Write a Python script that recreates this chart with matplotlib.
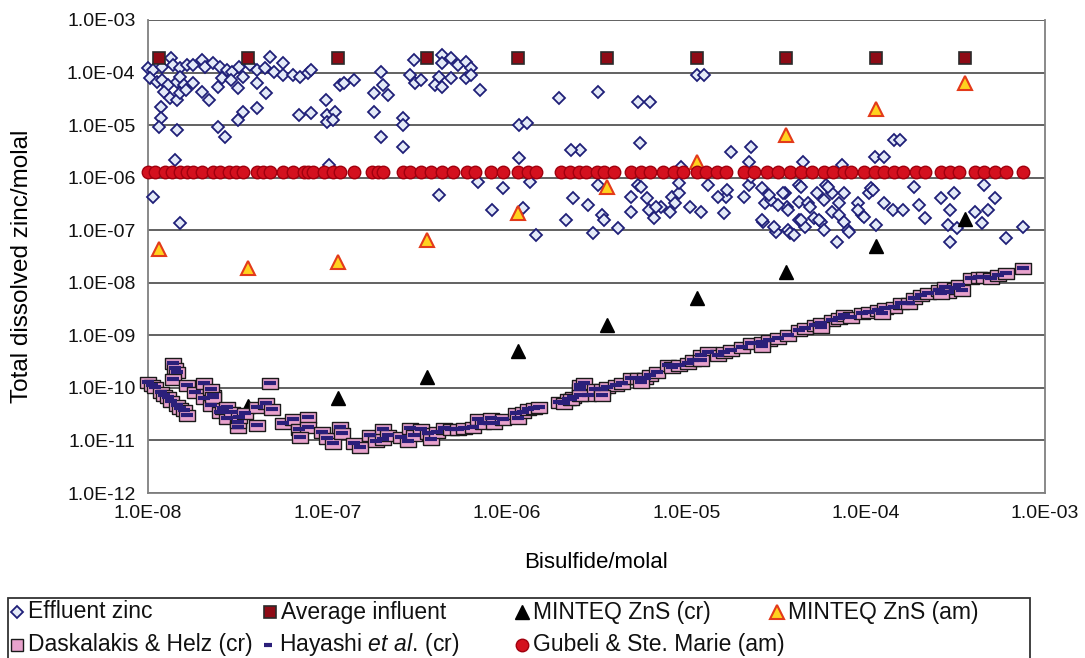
import numpy as np
import matplotlib
matplotlib.use("Agg")
import matplotlib.pyplot as plt
from matplotlib.lines import Line2D
from matplotlib.patches import Rectangle
from matplotlib.ticker import FixedLocator, FuncFormatter, NullLocator

plt.rcParams["font.family"] = ["Liberation Sans", "DejaVu Sans"]
plt.rcParams["mathtext.fontset"] = "custom"
plt.rcParams["mathtext.rm"] = "Liberation Sans"
plt.rcParams["mathtext.it"] = "Liberation Sans:italic"

# model bisulfide levels (molal)
model_hs = [1.15e-8, 3.6e-8, 1.15e-7, 3.6e-7, 1.15e-6, 3.6e-6, 1.15e-5, 3.6e-5, 1.15e-4, 3.6e-4]
avg_influent = [1.9e-4, 1.9e-4, 1.9e-4, 1.9e-4, 1.9e-4, 1.9e-4, 1.9e-4, 1.9e-4, 1.9e-4, 1.9e-4]
minteq_am = [4.3e-8, 1.95e-8, 2.5e-8, 6.6e-8, 2.1e-7, 6.5e-7, 2.0e-6, 6.5e-6, 2.0e-5, 6.3e-5]
minteq_cr_hs = [3.6e-8, 1.15e-7, 3.6e-7, 1.15e-6, 3.6e-6, 1.15e-5, 3.6e-5, 1.15e-4, 3.6e-4]
minteq_cr = [4.5e-11, 6.5e-11, 1.6e-10, 5.1e-10, 1.6e-9, 5.1e-9, 1.6e-8, 5.0e-8, 1.6e-7]

# Gubeli & Ste. Marie (am): constant zinc, log10 bisulfide
gubeli_zn = 1.3e-6
gubeli_log_hs = [
    -8.0, -7.96, -7.905, -7.866, -7.82, -7.78, -7.75, -7.70, -7.64, -7.60, -7.55, -7.51,
    -7.47, -7.39, -7.36, -7.32, -7.25, -7.19, -7.13, -7.11, -7.08, -7.02, -6.97, -6.93,
    -6.85, -6.75, -6.72, -6.69, -6.58, -6.54, -6.48, -6.42, -6.36, -6.30, -6.22, -6.18,
    -6.09, -6.02, -5.94, -5.88, -5.84, -5.70, -5.65, -5.60, -5.56, -5.50, -5.46, -5.40,
    -5.31, -5.25, -5.20, -5.13, -5.07, -5.02, -4.94, -4.89, -4.83, -4.78, -4.68, -4.62,
    -4.55, -4.49, -4.42, -4.36, -4.30, -4.23, -4.18, -4.12, -4.08, -4.01, -3.95, -3.90,
    -3.84, -3.79, -3.72, -3.67, -3.58, -3.53, -3.48, -3.39, -3.34, -3.28, -3.22, -3.12,
]

# effluent zinc: (log10 bisulfide, log10 zinc)
effluent_log = [
    (-8.0, -3.91), (-7.97, -3.95), (-7.92, -3.89), (-7.87, -3.72), (-7.86, -3.86), (-7.82, -3.91),
    (-7.78, -3.86), (-7.75, -3.86), (-7.70, -3.76), (-7.68, -3.89), (-7.64, -3.82), (-7.60, -3.89),
    (-7.56, -3.95), (-7.53, -3.99), (-7.49, -3.89), (-7.43, -3.86), (-7.39, -3.95), (-7.35, -3.91),
    (-7.32, -3.70), (-7.30, -3.99), (-7.25, -3.82), (-7.25, -4.05), (-7.19, -4.05), (-7.15, -4.08),
    (-7.11, -4.01), (-7.09, -3.95), (-6.70, -3.99), (-7.99, -4.10), (-7.95, -4.18), (-7.92, -4.14),
    (-7.89, -4.24), (-7.84, -4.18), (-7.82, -4.08), (-7.80, -4.24), (-7.75, -4.20), (-7.91, -4.37),
    (-7.88, -4.48), (-7.84, -4.52), (-7.82, -4.39), (-7.79, -4.33), (-7.70, -4.37), (-7.66, -4.52),
    (-7.61, -4.27), (-7.59, -4.10), (-7.54, -4.14), (-7.50, -4.29), (-7.47, -4.08), (-7.39, -4.20),
    (-7.34, -4.39), (-7.39, -4.67), (-7.47, -4.75), (-7.50, -4.90), (-7.93, -4.65), (-7.93, -4.86),
    (-7.94, -5.03), (-7.84, -5.09), (-7.61, -5.03), (-7.57, -5.22), (-7.16, -4.81), (-7.09, -4.77),
    (-7.01, -4.52), (-7.00, -4.81), (-6.96, -4.75), (-7.00, -4.94), (-6.97, -4.90), (-6.93, -4.24),
    (-6.91, -4.20), (-6.85, -4.14), (-6.74, -4.39), (-6.74, -4.75), (-6.70, -5.22), (-7.85, -5.66),
    (-7.97, -6.37), (-7.82, -6.86), (-6.99, -5.76),
    (-6.69, -4.24), (-6.66, -4.43), (-6.58, -4.86), (-6.58, -5.00), (-6.58, -5.41), (-6.52, -3.76),
    (-6.54, -4.05), (-6.51, -4.20), (-6.48, -4.14), (-6.36, -3.67), (-6.36, -3.82), (-6.31, -3.72),
    (-6.27, -3.86), (-6.23, -3.80), (-6.20, -3.91), (-6.38, -4.08), (-6.40, -4.24), (-6.36, -4.27),
    (-6.31, -4.10), (-6.23, -4.10), (-6.20, -4.05), (-6.15, -4.33), (-5.93, -5.00), (-5.89, -4.96),
    (-5.93, -5.62), (-5.71, -4.48), (-6.16, -6.08), (-6.02, -6.19), (-5.87, -6.08), (-6.38, -6.33),
    (-6.08, -6.61), (-5.91, -6.57), (-5.67, -6.80), (-5.84, -7.09),
    (-4.94, -4.05), (-4.90, -4.05), (-5.49, -4.37), (-5.27, -4.56), (-5.20, -4.56), (-5.59, -5.47),
    (-5.26, -5.34), (-4.75, -5.51), (-4.64, -5.41), (-3.84, -5.28), (-3.81, -5.28), (-3.95, -5.60),
    (-3.90, -5.60), (-4.35, -5.70), (-4.13, -5.76), (-5.03, -5.79), (-4.65, -5.70), (-5.49, -6.14),
    (-5.63, -6.38), (-5.55, -6.52), (-5.52, -7.05), (-5.47, -6.71), (-5.46, -6.80), (-5.38, -6.95),
    (-5.31, -6.65), (-5.31, -6.37), (-5.27, -6.14), (-5.25, -6.17), (-5.21, -6.61), (-5.18, -6.76),
    (-5.14, -6.56), (-5.09, -6.65), (-5.08, -6.37), (-5.06, -6.48), (-5.04, -6.29), (-4.98, -6.56),
    (-4.92, -6.65), (-4.88, -6.14), (-4.79, -6.67), (-4.78, -6.37), (-4.68, -6.37), (-4.65, -6.14),
    (-4.64, -5.98), (-4.58, -6.19), (-4.56, -6.48), (-4.57, -6.84), (-4.53, -6.42), (-4.50, -7.03),
    (-4.45, -6.29), (-4.44, -6.56), (-4.43, -6.99), (-4.42, -7.05), (-4.37, -6.14), (-4.37, -6.46),
    (-4.37, -6.80), (-4.32, -6.48), (-4.34, -6.94), (-4.29, -6.76), (-4.27, -6.29), (-4.25, -6.84),
    (-4.23, -6.99), (-4.22, -6.14), (-4.19, -6.29), (-4.19, -6.65), (-4.16, -7.22), (-4.15, -6.48),
    (-4.15, -6.71), (-4.12, -6.29), (-4.12, -6.84), (-4.10, -6.99), (-4.04, -6.48), (-4.02, -6.71),
    (-3.98, -6.29), (-3.97, -6.19), (-3.94, -6.90), (-3.90, -6.48), (-3.85, -6.61), (-3.79, -6.61),
    (-3.73, -6.17), (-3.70, -6.52), (-3.67, -6.76), (-3.58, -6.38), (-3.53, -6.61), (-3.54, -6.90),
    (-3.53, -7.22), (-3.51, -6.29), (-3.49, -6.95), (-3.39, -6.65), (-3.35, -6.86), (-3.34, -6.14),
    (-3.32, -6.61), (-3.28, -6.38), (-3.22, -7.14), (-3.12, -6.94),
    (-5.64, -5.47), (-5.22, -6.38), (-5.17, -6.56), (-5.04, -6.10), (-4.82, -6.37), (-4.77, -6.23),
    (-4.58, -6.80), (-4.54, -6.33), (-4.51, -6.94), (-4.49, -6.52), (-4.46, -6.29), (-4.43, -6.61),
    (-4.40, -7.09), (-4.36, -6.80), (-4.36, -6.17), (-4.31, -6.56), (-4.26, -6.80), (-4.23, -6.42),
    (-4.21, -6.17), (-4.09, -7.03), (-4.04, -6.61), (-4.01, -6.75), (-3.96, -6.23),
]

# Daskalakis & Helz (cr) and Hayashi et al. (cr): (log10 bisulfide, log10 zinc)
daskalakis_log = [
    (-8.0, -9.88), (-7.98, -9.94), (-7.96, -9.99), (-7.93, -10.07), (-7.91, -10.13), (-7.89, -10.18),
    (-7.87, -10.24), (-7.84, -10.32), (-7.82, -10.38), (-7.80, -10.43), (-7.78, -10.51),
    (-7.86, -9.52), (-7.85, -9.62), (-7.84, -9.69), (-7.86, -9.84),
    (-7.78, -9.94), (-7.74, -10.07), (-7.69, -10.19), (-7.65, -10.32), (-7.60, -10.45), (-7.56, -10.57),
    (-7.50, -10.74), (-7.69, -9.90), (-7.64, -10.13), (-7.58, -10.38), (-7.50, -10.64),
    (-7.65, -10.03), (-7.64, -10.17), (-7.56, -10.36), (-7.53, -10.45), (-7.49, -10.55), (-7.46, -10.47),
    (-7.39, -10.36), (-7.39, -10.70), (-7.34, -10.28), (-7.31, -10.41), (-7.32, -9.90),
    (-7.25, -10.66), (-7.19, -10.60), (-7.16, -10.79), (-7.11, -10.55), (-7.11, -10.74), (-7.15, -10.93),
    (-7.03, -10.83), (-7.00, -10.95), (-6.97, -11.04), (-6.93, -10.74), (-6.92, -10.85), (-6.85, -11.04),
    (-6.82, -11.12), (-6.76, -10.89), (-6.73, -11.02), (-6.69, -10.79), (-6.69, -10.98), (-6.66, -10.89),
    (-6.59, -10.93), (-6.55, -11.02), (-6.54, -10.76), (-6.52, -10.89), (-6.48, -10.79), (-6.44, -10.85),
    (-6.42, -10.98), (-6.39, -10.83), (-6.35, -10.76), (-6.31, -10.79), (-6.27, -10.79), (-6.24, -10.76),
    (-6.19, -10.74), (-6.16, -10.60), (-6.13, -10.66), (-6.09, -10.57), (-6.07, -10.66), (-6.02, -10.60),
    (-5.95, -10.47), (-5.94, -10.57), (-5.91, -10.45), (-5.88, -10.41), (-5.85, -10.38), (-5.82, -10.36),
    (-5.71, -10.26), (-5.66, -10.22), (-5.63, -10.17), (-5.59, -10.03), (-5.59, -9.94), (-5.55, -10.13),
    (-5.68, -10.28), (-5.64, -10.22), (-5.59, -10.13), (-5.57, -9.90), (-5.51, -10.03), (-5.47, -10.03),
    (-5.44, -9.98), (-5.39, -9.94), (-5.36, -9.90), (-5.31, -9.81), (-5.27, -9.81), (-5.23, -9.81),
    (-5.20, -9.75), (-5.16, -9.69), (-5.10, -9.56), (-5.08, -9.60), (-5.04, -9.56), (-4.99, -9.52),
    (-4.96, -9.46), (-4.92, -9.37), (-4.88, -9.31), (-4.82, -9.37), (-4.79, -9.31), (-4.75, -9.27),
    (-4.69, -9.22), (-4.64, -9.14), (-4.58, -9.12), (-4.54, -9.08), (-4.49, -9.05), (-4.43, -8.99),
    (-4.37, -8.89), (-4.34, -8.86), (-4.28, -8.80), (-4.25, -8.76), (-4.19, -8.70), (-4.15, -8.67),
    (-4.12, -8.61), (-4.08, -8.65), (-4.02, -8.57), (-3.98, -8.55), (-3.93, -8.51), (-3.89, -8.48),
    (-3.84, -8.46), (-3.80, -8.38), (-3.76, -8.38), (-3.73, -8.29), (-3.69, -8.23), (-3.65, -8.19),
    (-3.59, -8.13), (-3.56, -8.08), (-3.54, -8.17), (-3.50, -8.10), (-3.48, -8.04), (-3.41, -7.90),
    (-3.37, -7.89), (-3.34, -7.89), (-3.30, -7.90), (-3.26, -7.85), (-3.22, -7.81), (-3.12, -7.71),
    (-5.47, -10.13), (-5.25, -9.88), (-4.92, -9.46), (-4.58, -9.20), (-4.25, -8.84), (-3.91, -8.57),
    (-3.58, -8.19), (-3.46, -8.13),
]

eff_x, eff_y = 10 ** np.array(effluent_log).T
das_x, das_y = 10 ** np.array(daskalakis_log).T
gub_x = 10 ** np.array(gubeli_log_hs)
gub_y = np.full(len(gub_x), gubeli_zn)

W, H = 1085, 658
fig = plt.figure(figsize=(W / 100, H / 100), dpi=100)
ax = fig.add_axes([148 / W, 1 - 493 / H, (1045 - 148) / W, (493 - 20) / H])
ax.set_xscale("log")
ax.set_yscale("log")
ax.set_xlim(1e-8, 1e-3)
ax.set_ylim(1e-12, 1e-3)

rect_marker = [(-1, -0.72), (1, -0.72), (1, 0.72), (-1, 0.72), (-1, -0.72)]

styles = {
    "eff": dict(marker="D", ms=6.3, mfc="#e4eaf8", mec="#1f1f78", mew=1.3),
    "avg": dict(marker="s", ms=9, mfc="#8e0b16", mec="#2a2a2a", mew=1.2),
    "cr": dict(marker="^", ms=10, mfc="black", mec="black", mew=1),
    "am": dict(marker="^", ms=10, mfc="#ffd21f", mec="#e33a1a", mew=1.5),
    "das": dict(marker=rect_marker, ms=11, mfc="#e8a2cc", mec="#1a1a1a", mew=1.0),
    "hay": dict(marker="_", ms=8, mec="#2b1f7a", mew=3.0),
    "gub": dict(marker="o", ms=9, mfc="#d4101e", mec="#a0000e", mew=1),
}

ax.plot(eff_x, eff_y, ls="none", zorder=3, clip_on=False, **styles["eff"])
ax.plot(model_hs, avg_influent, ls="none", zorder=4, clip_on=False, **styles["avg"])
ax.plot(minteq_cr_hs, minteq_cr, ls="none", zorder=5, clip_on=False, **styles["cr"])
ax.plot(model_hs, minteq_am, ls="none", zorder=6, clip_on=False, **styles["am"])
ax.plot(das_x, das_y, ls="none", zorder=7, clip_on=False, **styles["das"])
ax.plot(das_x, das_y, ls="none", zorder=8, clip_on=False, **styles["hay"])
ax.plot(gub_x, gub_y, ls="none", zorder=9, clip_on=False, **styles["gub"])

decades_x = [1e-8, 1e-7, 1e-6, 1e-5, 1e-4, 1e-3]
decades_y = [1e-12, 1e-11, 1e-10, 1e-9, 1e-8, 1e-7, 1e-6, 1e-5, 1e-4, 1e-3]
fmt = FuncFormatter(lambda v, p: f"{v:.1E}")
ax.xaxis.set_major_locator(FixedLocator(decades_x))
ax.yaxis.set_major_locator(FixedLocator(decades_y))
ax.xaxis.set_minor_locator(NullLocator())
ax.yaxis.set_minor_locator(NullLocator())
ax.xaxis.set_major_formatter(fmt)
ax.yaxis.set_major_formatter(fmt)
ax.tick_params(axis="both", length=0, labelsize=14, colors="#111111")
ax.tick_params(axis="x", pad=9)
ax.tick_params(axis="y", pad=9)

ax.yaxis.grid(True, color="#555555", lw=1.3, zorder=1)
ax.set_axisbelow(True)
for side in ["left", "right", "bottom"]:
    ax.spines[side].set_color("#808080")
    ax.spines[side].set_linewidth(1.3)
ax.spines["top"].set_visible(False)

fig.text(596 / W, 1 - 563 / H, "Bisulfide/molal", fontsize=16, ha="center", va="center")
fig.text(22 / W, 1 - 266 / H, "Total dissolved zinc/molal", fontsize=17.5,
         ha="center", va="center", rotation=90)

# legend box drawn by hand so the four columns sit on an even grid
fig.add_artist(Rectangle((8 / W, -0.05), (1030 - 8) / W, 0.05 + 1 - 598 / H,
                         transform=fig.transFigure, fill=False, ec="#333333", lw=1.3))
entries = [
    (17, 612, "eff", "Effluent zinc"),
    (270, 612, "avg", "Average influent"),
    (522, 612, "cr", "MINTEQ ZnS (cr)"),
    (777, 612, "am", "MINTEQ ZnS (am)"),
    (17, 645, "das", "Daskalakis & Helz (cr)"),
    (268, 645, "hay", r"Hayashi $\mathit{et\ al.}\,$(cr)"),
    (522, 645, "gub", "Gubeli & Ste. Marie (am)"),
]
for hx, hy, key, label in entries:
    st = dict(styles[key])
    if key == "das":
        st["marker"] = "s"
        st["ms"] = 9
    if key == "hay":
        st["ms"] = 6
        st["mew"] = 3
    fig.add_artist(Line2D([hx / W], [1 - hy / H], transform=fig.transFigure, ls="none", **st))
    fig.text((hx + 11) / W, 1 - hy / H, label, fontsize=16.5, va="center", ha="left", color="#111111")

fig.savefig("out.png", dpi=100)
